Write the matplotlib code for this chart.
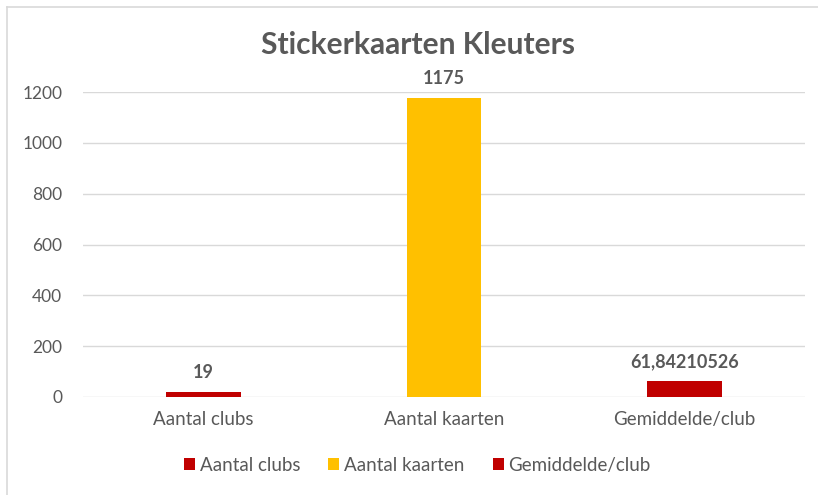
import matplotlib.pyplot as plt
from matplotlib.lines import Line2D
from matplotlib.patches import Patch

# data
categories = ['Aantal clubs', 'Aantal kaarten', 'Gemiddelde/club']
values = [19, 1175, 61.84210526]
value_labels = ['19', '1175', '61,84210526']
colors = ['#C00000', '#FFC000', '#C00000']

text_col = '#595959'
grid_col = '#D9D9D9'

plt.rcParams['font.family'] = ['Lato', 'DejaVu Sans']

fig = plt.figure(figsize=(8.18, 4.95), dpi=100)
ax = fig.add_axes([0.1015, 0.198, 0.8825, 0.616])

x = range(len(categories))
bars = ax.bar(x, values, width=0.31, color=colors, zorder=3)

for b, lab in zip(bars, value_labels):
    ax.annotate(lab, (b.get_x() + b.get_width() / 2, b.get_height()),
                xytext=(0, 8), textcoords='offset points', ha='center', va='bottom',
                fontsize=13, fontweight='bold', color=text_col)

ax.set_xlim(-0.5, 2.5)
ax.set_ylim(0, 1200)
ax.set_yticks(range(0, 1201, 200))
ax.set_xticks(list(x))
ax.set_xticklabels(categories)
ax.yaxis.grid(True, color=grid_col, linewidth=1, zorder=0)
for s in ax.spines.values():
    s.set_visible(False)
ax.tick_params(axis='both', length=0, labelcolor=text_col)
ax.tick_params(axis='y', pad=15, labelsize=12.5)
ax.tick_params(axis='x', pad=10, labelsize=13.5)

fig.text(0.511, 0.91, 'Stickerkaarten Kleuters', ha='center', va='center',
         fontsize=21.5, fontweight='bold', color=text_col)

handles = [Patch(facecolor=c) for c in colors]
fig.legend(handles, categories, loc='center', bbox_to_anchor=(0.51, 0.06), ncol=3,
           frameon=False, fontsize=13.5, labelcolor=text_col,
           handlelength=0.6, handleheight=0.6, handletextpad=0.25, columnspacing=1.5)

# chart border (top and left visible)
fig.add_artist(Line2D([0.0085, 1.0], [0.986, 0.986], color=grid_col, linewidth=1.2))
fig.add_artist(Line2D([0.0085, 0.0085], [0.0, 0.986], color=grid_col, linewidth=1.2))

fig.savefig('out.png', dpi=100, facecolor='white')
